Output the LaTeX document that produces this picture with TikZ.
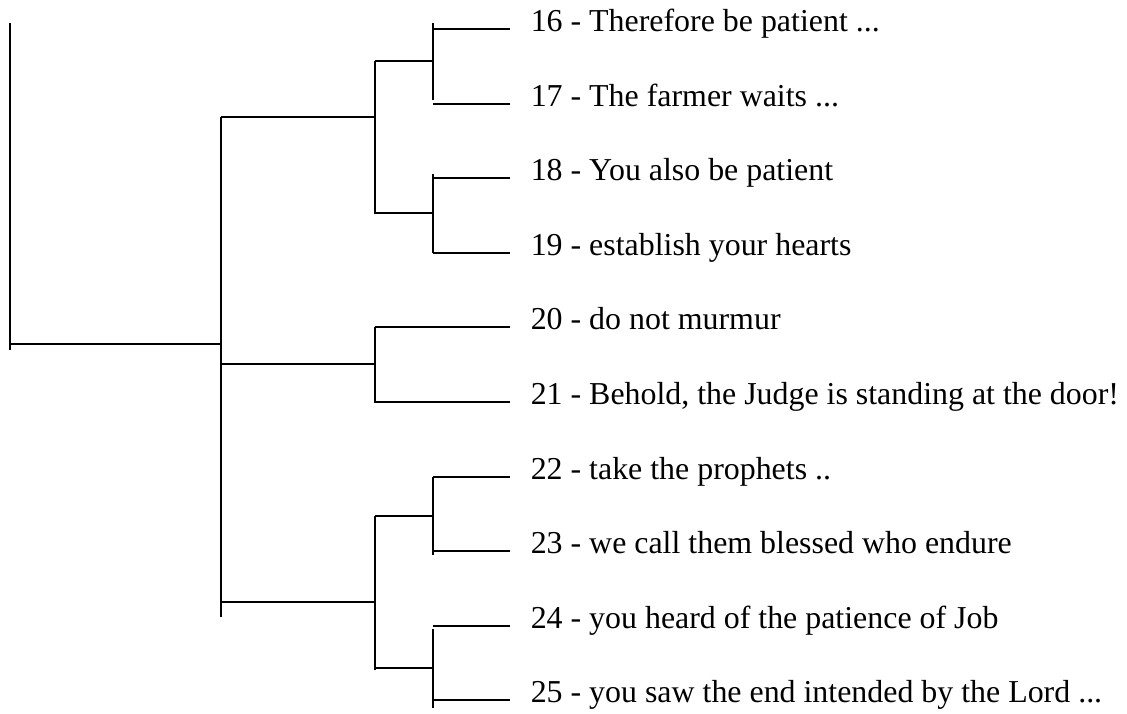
\documentclass[tikz,border=0pt]{standalone}
\usepackage{fontspec}
\setmainfont{Liberation Serif}
\begin{document}
\begin{tikzpicture}[x=1pt, y=-1pt, line width=1.5pt]
    \tikzstyle{leaf}=[anchor=base west, inner sep=0pt, font=\fontsize{31.9}{34}\selectfont]
    \useasboundingbox (0,0) rectangle (1127,713);
    % verses
    \foreach \n/\y/\t in {16/29/{Therefore be patient ...}, 17/104/{The farmer waits ...},
      18/178/{You also be patient}, 19/253/{establish your hearts},
      20/327/{do not murmur}, 21/402/{Behold, the Judge is standing at the door!},
      22/477/{take the prophets ..}, 23/551/{we call them blessed who endure},
      24/626/{you heard of the patience of Job}, 25/700/{you saw the end intended by the Lord ...}}{
      \coordinate (e\n) at (510,\y);
      \node[leaf] (t\n) at (530,\y+2) {\n{} - \t};
    }
    % pairs
    \coordinate (g1t) at (433,23);  \coordinate (g1b) at (433,100);
    \coordinate (g2t) at (433,174); \coordinate (g2b) at (433,253);
    \coordinate (g3t) at (375,327); \coordinate (g3b) at (375,403);
    \coordinate (g4t) at (433,477); \coordinate (g4b) at (433,555);
    \coordinate (g5t) at (433,629); \coordinate (g5b) at (433,708);
    \draw (g1t) -- (g1b) (e16) -- (e16 -| g1t) (e17) -- (e17 -| g1t);
    \draw (g2t) -- (g2b) (e18) -- (e18 -| g2t) (e19) -- (e19 -| g2t);
    \draw (g3t) -- (g3b) (e20) -- (e20 -| g3t) (e21) -- (e21 -| g3t);
    \draw (g4t) -- (g4b) (e22) -- (e22 -| g4t) (e23) -- (e23 -| g4t);
    \draw (g5t) -- (g5b) (e24) -- (e24 -| g5t) (e25) -- (e25 -| g5t);
    % groups
    \coordinate (h1t) at (375,61);  \coordinate (h1b) at (375,214);
    \coordinate (h1u) at (375,213); \coordinate (h1m) at (375,117);
    \coordinate (h2t) at (375,516); \coordinate (h2b) at (375,670);
    \coordinate (h2u) at (375,668); \coordinate (h2m) at (375,602);
    \coordinate (g3m) at (375,364);
    \draw (h1t) -- (h1b) (h1t) -- (h1t -| g1t) (h1u) -- (h1u -| g2t);
    \draw (h2t) -- (h2b) (h2t) -- (h2t -| g4t) (h2u) -- (h2u -| g5t);
    % root
    \coordinate (rt) at (221,117); \coordinate (rb) at (221,617);
    \coordinate (rm) at (221,344);
    \coordinate (st) at (10,23);   \coordinate (sb) at (10,350);
    \draw (rt) -- (rb) (h1m) -- (h1m -| rt) (g3m) -- (g3m -| rt) (h2m) -- (h2m -| rt);
    \draw (st) -- (sb) (rm) -- (rm -| st);
\end{tikzpicture}
\end{document}
